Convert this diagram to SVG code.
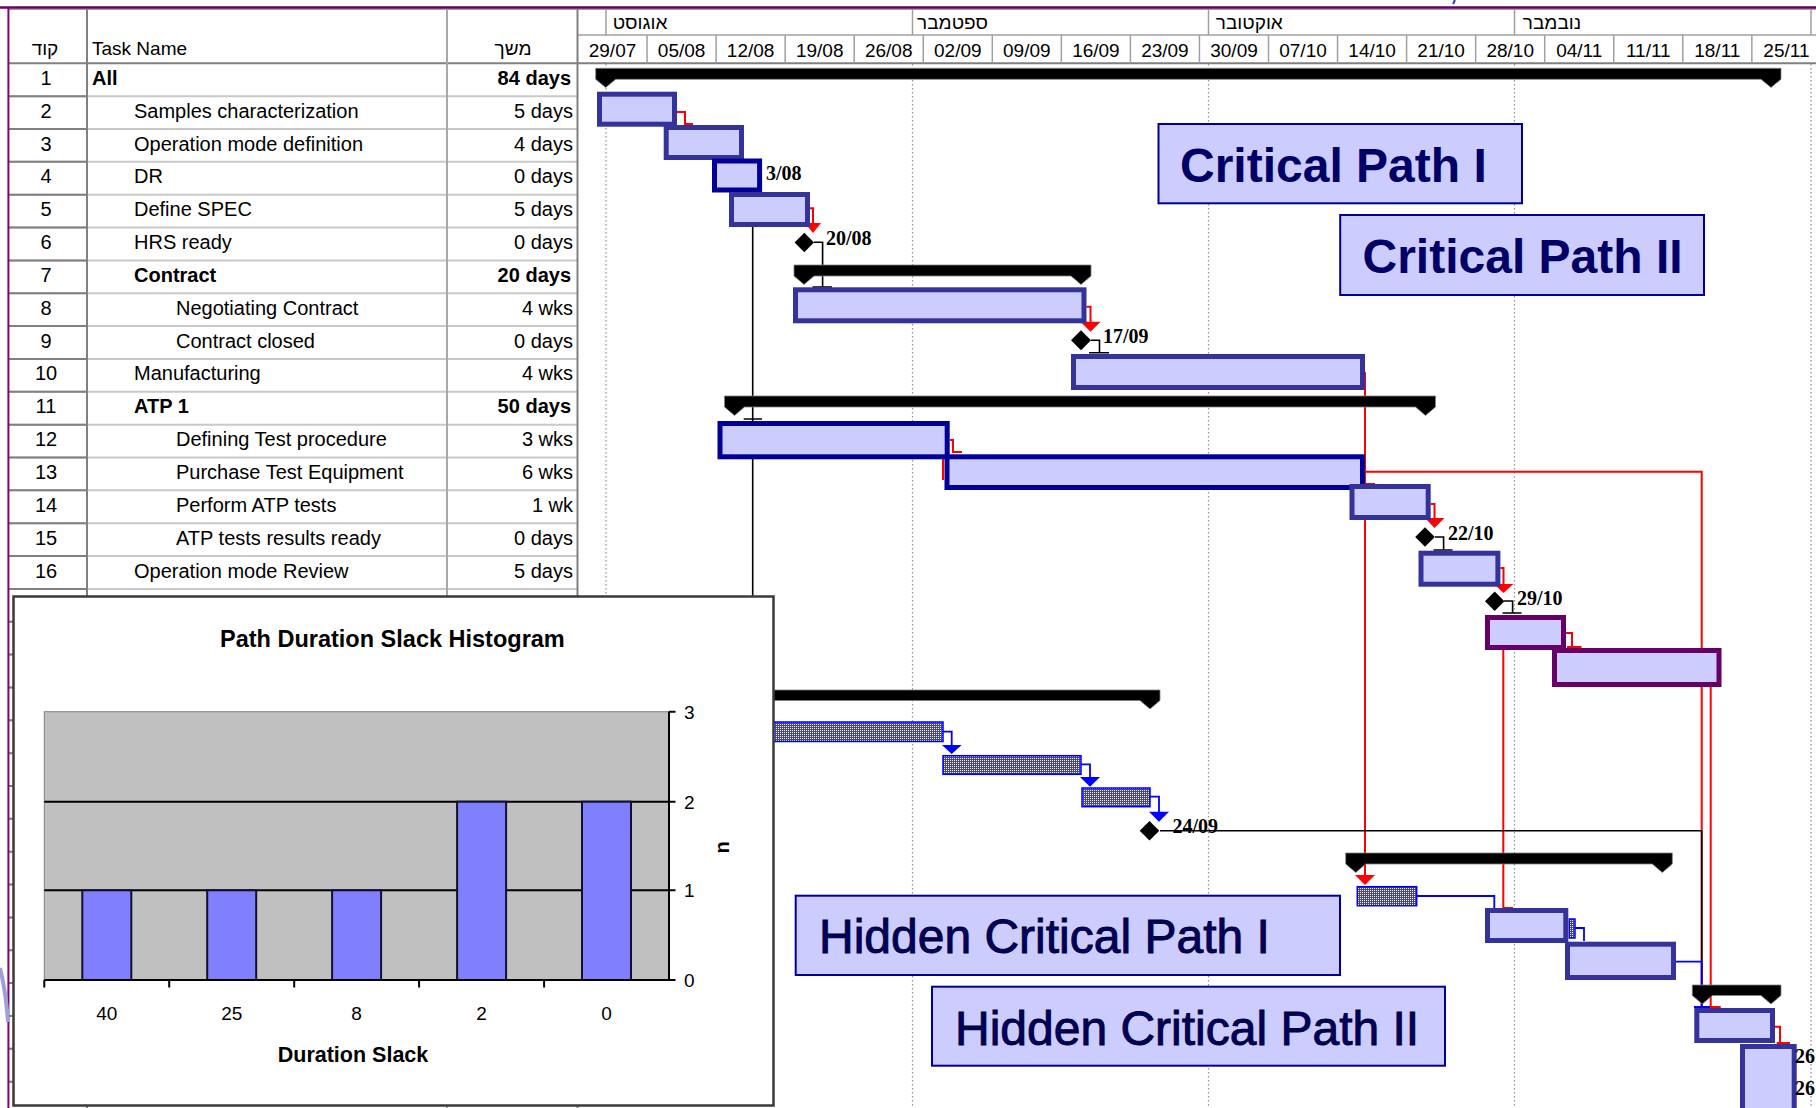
<svg xmlns="http://www.w3.org/2000/svg" width="1816" height="1108" viewBox="0 0 1816 1108">
<style>
.t{font-family:"Liberation Sans","DejaVu Sans",Arial,sans-serif;font-size:20px;fill:#000}
.b{font-weight:bold}
.hd{font-family:"Liberation Sans","DejaVu Sans",Arial,sans-serif;font-size:19px;fill:#000}
.ms{font-family:"Liberation Serif","DejaVu Serif",serif;font-weight:bold;font-size:20px;fill:#000}
.cp{font-family:"Liberation Sans",Arial,sans-serif;font-weight:bold;font-size:48px;fill:#000066}
.hcp{font-family:"Liberation Sans",Arial,sans-serif;font-size:48px;fill:#000066;stroke:#000022;stroke-width:0.9}
.box{fill:#CCCCFF;stroke:#000099;stroke-width:2}
.crit{fill:#CCCCFF;stroke:#333399;stroke-width:5}
.crit2{fill:#CCCCFF;stroke:#000099;stroke-width:5}
.purp{fill:#CCCCFF;stroke:#660066;stroke-width:5}
.hatch{fill:url(#hp);stroke:#0000FF;stroke-width:1.5}
.sum{fill:#000;stroke:#808080;stroke-width:0.8}
.rl{fill:none;stroke:#FF0000;stroke-width:2}
.bl{fill:none;stroke:#000;stroke-width:1.6}
.bu{fill:none;stroke:#0000FF;stroke-width:1.8}
.ra{fill:#FF0000}
.ba{fill:#0000FF}
.dot{stroke:#909090;stroke-width:1.2;stroke-dasharray:1.5 2.5}
.rowl{stroke:#C8C8C8;stroke-width:2}
.rowd{stroke:#808080;stroke-width:2}
.gl{stroke:#A0A0A0;stroke-width:1.5}
.hl{font-family:"Liberation Sans",Arial,sans-serif;font-size:19px;fill:#000}
</style>
<defs>
<pattern id="hp" width="2" height="2" patternUnits="userSpaceOnUse">
<rect width="2" height="2" fill="#3838FF"/>
<rect width="1" height="1" fill="#FFFFFF"/>
</pattern>
</defs>
<rect width="1816" height="1108" fill="#FFFFFF"/>

<!-- table grid -->
<g id="table-grid">
<line x1="9" y1="9.3" x2="1816" y2="9.3" class="gl"/>
<line x1="9" y1="63.3" x2="1816" y2="63.3" class="rowd"/>
<line x1="578" y1="35" x2="1816" y2="35" class="gl"/>
<g class="rowl">
<line x1="9" y1="96.15" x2="577" y2="96.15"/><line x1="9" y1="129" x2="577" y2="129"/>
<line x1="9" y1="161.85" x2="577" y2="161.85"/><line x1="9" y1="194.7" x2="577" y2="194.7"/>
<line x1="9" y1="227.55" x2="577" y2="227.55"/><line x1="9" y1="260.4" x2="577" y2="260.4"/>
<line x1="9" y1="293.25" x2="577" y2="293.25"/><line x1="9" y1="326.1" x2="577" y2="326.1"/>
<line x1="9" y1="358.95" x2="577" y2="358.95"/><line x1="9" y1="391.8" x2="577" y2="391.8"/>
<line x1="9" y1="424.65" x2="577" y2="424.65"/><line x1="9" y1="457.5" x2="577" y2="457.5"/>
<line x1="9" y1="490.35" x2="577" y2="490.35"/><line x1="9" y1="523.2" x2="577" y2="523.2"/>
<line x1="9" y1="556.05" x2="577" y2="556.05"/><line x1="9" y1="588.9" x2="577" y2="588.9"/>
<line x1="9" y1="621.75" x2="577" y2="621.75"/><line x1="9" y1="654.6" x2="577" y2="654.6"/>
<line x1="9" y1="687.45" x2="577" y2="687.45"/><line x1="9" y1="720.3" x2="577" y2="720.3"/>
<line x1="9" y1="753.15" x2="577" y2="753.15"/><line x1="9" y1="786" x2="577" y2="786"/>
<line x1="9" y1="818.85" x2="577" y2="818.85"/><line x1="9" y1="851.7" x2="577" y2="851.7"/>
<line x1="9" y1="884.55" x2="577" y2="884.55"/><line x1="9" y1="917.4" x2="577" y2="917.4"/>
<line x1="9" y1="950.25" x2="577" y2="950.25"/><line x1="9" y1="983.1" x2="577" y2="983.1"/>
<line x1="9" y1="1015.95" x2="577" y2="1015.95"/><line x1="9" y1="1048.8" x2="577" y2="1048.8"/>
<line x1="9" y1="1081.65" x2="577" y2="1081.65"/>
</g>
<g class="rowd">
<line x1="9" y1="96.15" x2="87" y2="96.15"/><line x1="9" y1="129" x2="87" y2="129"/>
<line x1="9" y1="161.85" x2="87" y2="161.85"/><line x1="9" y1="194.7" x2="87" y2="194.7"/>
<line x1="9" y1="227.55" x2="87" y2="227.55"/><line x1="9" y1="260.4" x2="87" y2="260.4"/>
<line x1="9" y1="293.25" x2="87" y2="293.25"/><line x1="9" y1="326.1" x2="87" y2="326.1"/>
<line x1="9" y1="358.95" x2="87" y2="358.95"/><line x1="9" y1="391.8" x2="87" y2="391.8"/>
<line x1="9" y1="424.65" x2="87" y2="424.65"/><line x1="9" y1="457.5" x2="87" y2="457.5"/>
<line x1="9" y1="490.35" x2="87" y2="490.35"/><line x1="9" y1="523.2" x2="87" y2="523.2"/>
<line x1="9" y1="556.05" x2="87" y2="556.05"/><line x1="9" y1="588.9" x2="87" y2="588.9"/>
<line x1="9" y1="621.75" x2="87" y2="621.75"/><line x1="9" y1="654.6" x2="87" y2="654.6"/>
<line x1="9" y1="687.45" x2="87" y2="687.45"/><line x1="9" y1="720.3" x2="87" y2="720.3"/>
<line x1="9" y1="753.15" x2="87" y2="753.15"/><line x1="9" y1="786" x2="87" y2="786"/>
<line x1="9" y1="818.85" x2="87" y2="818.85"/><line x1="9" y1="851.7" x2="87" y2="851.7"/>
<line x1="9" y1="884.55" x2="87" y2="884.55"/><line x1="9" y1="917.4" x2="87" y2="917.4"/>
<line x1="9" y1="950.25" x2="87" y2="950.25"/><line x1="9" y1="983.1" x2="87" y2="983.1"/>
<line x1="9" y1="1015.95" x2="87" y2="1015.95"/><line x1="9" y1="1048.8" x2="87" y2="1048.8"/>
<line x1="9" y1="1081.65" x2="87" y2="1081.65"/>
<line x1="87" y1="9.3" x2="87" y2="1108"/>
<line x1="577.5" y1="9.3" x2="577.5" y2="1108"/>
</g>
<line x1="447" y1="9.3" x2="447" y2="1108" stroke="#A8A8A8" stroke-width="2"/>
</g>

<!-- gantt header -->
<g id="timescale">
<g class="gl">
<line x1="606" y1="9.3" x2="606" y2="35"/><line x1="912.5" y1="9.3" x2="912.5" y2="35"/>
<line x1="1208.5" y1="9.3" x2="1208.5" y2="35"/><line x1="1514.5" y1="9.3" x2="1514.5" y2="35"/>
<line x1="1811" y1="9.3" x2="1811" y2="35"/>
<line x1="647.05" y1="35" x2="647.05" y2="63.3"/><line x1="716.1" y1="35" x2="716.1" y2="63.3"/>
<line x1="785.15" y1="35" x2="785.15" y2="63.3"/><line x1="854.2" y1="35" x2="854.2" y2="63.3"/>
<line x1="923.25" y1="35" x2="923.25" y2="63.3"/><line x1="992.3" y1="35" x2="992.3" y2="63.3"/>
<line x1="1061.35" y1="35" x2="1061.35" y2="63.3"/><line x1="1130.4" y1="35" x2="1130.4" y2="63.3"/>
<line x1="1199.45" y1="35" x2="1199.45" y2="63.3"/><line x1="1268.5" y1="35" x2="1268.5" y2="63.3"/>
<line x1="1337.55" y1="35" x2="1337.55" y2="63.3"/><line x1="1406.6" y1="35" x2="1406.6" y2="63.3"/>
<line x1="1475.65" y1="35" x2="1475.65" y2="63.3"/><line x1="1544.7" y1="35" x2="1544.7" y2="63.3"/>
<line x1="1613.75" y1="35" x2="1613.75" y2="63.3"/><line x1="1682.8" y1="35" x2="1682.8" y2="63.3"/>
<line x1="1751.85" y1="35" x2="1751.85" y2="63.3"/>
</g>
<g class="hl" text-anchor="middle">
<text x="640" y="29">אוגוסט</text><text x="952.5" y="29">ספטמבר</text>
<text x="1249.3" y="29">אוקטובר</text><text x="1552" y="29">נובמבר</text>
<text x="612.5" y="57">29/07</text><text x="681.6" y="57">05/08</text><text x="750.6" y="57">12/08</text>
<text x="819.7" y="57">19/08</text><text x="888.7" y="57">26/08</text><text x="957.8" y="57">02/09</text>
<text x="1026.8" y="57">09/09</text><text x="1095.9" y="57">16/09</text><text x="1164.9" y="57">23/09</text>
<text x="1234" y="57">30/09</text><text x="1303" y="57">07/10</text><text x="1372.1" y="57">14/10</text>
<text x="1441.1" y="57">21/10</text><text x="1510.2" y="57">28/10</text><text x="1579.2" y="57">04/11</text>
<text x="1648.3" y="57">11/11</text><text x="1717.3" y="57">18/11</text><text x="1786.4" y="57">25/11</text>
</g>
<g class="dot">
<line x1="606" y1="64" x2="606" y2="1108"/><line x1="912.5" y1="64" x2="912.5" y2="1108"/>
<line x1="1208.5" y1="64" x2="1208.5" y2="1108"/><line x1="1514.5" y1="64" x2="1514.5" y2="1108"/>
<line x1="1811" y1="64" x2="1811" y2="1108"/>
</g>
</g>

<!-- table text -->
<g id="table-text">
<text class="hd" x="45" y="55" text-anchor="middle">קוד</text>
<text class="hd" x="92" y="55">Task Name</text>
<text class="hd" x="513" y="55" text-anchor="middle">משך</text>
<g class="t" text-anchor="middle">
<text x="46" y="84.8">1</text><text x="46" y="117.6">2</text><text x="46" y="150.5">3</text>
<text x="46" y="183.4">4</text><text x="46" y="216.2">5</text><text x="46" y="249">6</text>
<text x="46" y="281.9">7</text><text x="46" y="314.7">8</text><text x="46" y="347.6">9</text>
<text x="46" y="380.4">10</text><text x="46" y="413.3">11</text><text x="46" y="446.1">12</text>
<text x="46" y="479">13</text><text x="46" y="511.8">14</text><text x="46" y="544.7">15</text>
<text x="46" y="577.5">16</text>
</g>
<g class="t">
<text x="92" y="84.8" class="t b">All</text>
<text x="134" y="117.6">Samples characterization</text>
<text x="134" y="150.5">Operation mode definition</text>
<text x="134" y="183.4">DR</text>
<text x="134" y="216.2">Define SPEC</text>
<text x="134" y="249">HRS ready</text>
<text x="134" y="281.9" class="t b">Contract</text>
<text x="176" y="314.7">Negotiating Contract</text>
<text x="176" y="347.6">Contract closed</text>
<text x="134" y="380.4">Manufacturing</text>
<text x="134" y="413.3" class="t b">ATP 1</text>
<text x="176" y="446.1">Defining Test procedure</text>
<text x="176" y="479">Purchase Test Equipment</text>
<text x="176" y="511.8">Perform ATP tests</text>
<text x="176" y="544.7">ATP tests results ready</text>
<text x="134" y="577.5">Operation mode Review</text>
</g>
<g class="t" text-anchor="end">
<text x="571" y="84.8" class="t b">84 days</text><text x="573" y="117.6">5 days</text>
<text x="573" y="150.5">4 days</text><text x="573" y="183.4">0 days</text>
<text x="573" y="216.2">5 days</text><text x="573" y="249">0 days</text>
<text x="571" y="281.9" class="t b">20 days</text><text x="573" y="314.7">4 wks</text>
<text x="573" y="347.6">0 days</text><text x="573" y="380.4">4 wks</text>
<text x="571" y="413.3" class="t b">50 days</text><text x="573" y="446.1">3 wks</text>
<text x="573" y="479">6 wks</text><text x="573" y="511.8">1 wk</text>
<text x="573" y="544.7">0 days</text><text x="573" y="577.5">5 days</text>
</g>
</g>

<!-- connectors -->
<g id="connectors">
<path class="rl" d="M677,112 H685 V124 H693"/>
<path class="rl" d="M810,208.3 H813 V224"/>
<polygon class="ra" points="805,223 821,223 813,233"/>
<path class="bl" d="M814,242.3 H822.6 V287 M812.5,287 H832"/>
<path class="bl" d="M752.7,227 V600 M743.7,419 H762"/>
<path class="rl" d="M1086.5,306.7 H1090.5 V322"/>
<polygon class="ra" points="1080.5,321.7 1100.5,321.7 1090.5,331.7"/>
<path class="bl" d="M1091,340.3 H1099.5 V352.7 M1089,352.7 H1109"/>
<path class="rl" d="M950,440 H953 V452 H962 M943,458 V480"/>
<path class="rl" d="M1365,372 V876"/>
<polygon class="ra" points="1355,875 1375,875 1365,885"/>
<path class="rl" d="M1365,471.7 H1701.7 V1007 M1365,484 H1375"/>
<path class="rl" d="M1430.7,504 H1434.5 V519"/>
<polygon class="ra" points="1425,518 1444.5,518 1434.5,528"/>
<path class="bl" d="M1435,537 H1443.6 V550 M1433.5,550 H1452.5"/>
<path class="rl" d="M1500.4,568 H1503.5 V585"/>
<polygon class="ra" points="1494,584 1513.4,584 1503.5,593"/>
<path class="bl" d="M1504,601 H1512.6 V613 M1502.5,613 H1521.5"/>
<path class="rl" d="M1566,633 H1572 V647 M1567,647 H1581.5"/>
<path class="rl" d="M1503.3,650 V908 H1513"/>
<path class="rl" d="M1710.7,687 V1007 H1720.7"/>
<path class="bu" d="M943,731.7 H951.7 V746"/>
<polygon class="ba" points="942,745 961.7,745 951.7,754"/>
<path class="bu" d="M1081,764.3 H1090 V778"/>
<polygon class="ba" points="1080,777 1100,777 1090,786.7"/>
<path class="bu" d="M1150,796.7 H1159 V812"/>
<polygon class="ba" points="1149,811.7 1169,811.7 1159,821.7"/>
<path class="bl" d="M1160,830.8 H1701.7 V1007"/>
<path class="bu" d="M1416.7,896 H1494.3 V908"/>
<path class="bu" d="M1575,928 H1584 V941"/>
<path class="bu" d="M1676,961.7 H1701.7 V1007 M1694,1007 H1710"/>
<path class="rl" d="M1775,1026.7 H1780 V1043 M1776.7,1043 H1790"/>
</g>

<!-- gantt tasks -->
<g id="task-1"><polygon class="sum" points="595.7,68.3 1781,68.3 1781,79.3 1771,87.5 1761,79.3 615.7,79.3 605.7,87.5 595.7,79.3"/></g>
<g id="task-2"><rect class="crit" x="599.5" y="94.2" width="75" height="30"/></g>
<g id="task-3"><rect class="crit" x="666.2" y="127.5" width="75.3" height="30"/></g>
<g id="task-4"><rect class="crit2" x="714.5" y="161" width="45.1" height="29" stroke-width="6"/><text class="ms" x="766" y="179.5">3/08</text></g>
<g id="task-5"><rect class="crit" x="731.5" y="194.5" width="76" height="30"/></g>
<g id="task-6"><polygon points="804.3,232.8 814,242.5 804.3,252.2 794.6,242.5" fill="#000"/><text class="ms" x="826" y="245">20/08</text></g>
<g id="task-7"><polygon class="sum" points="794,265 1091,265 1091,276 1081,284.5 1071,276 814,276 804,284.5 794,276"/></g>
<g id="task-8"><rect class="crit" x="795.5" y="289.8" width="288.5" height="31"/></g>
<g id="task-9"><polygon points="1081,330.3 1091,340.3 1081,350.3 1071,340.3" fill="#000"/><text class="ms" x="1103" y="343">17/09</text></g>
<g id="task-10"><rect class="crit" x="1073.5" y="356.5" width="289" height="31"/></g>
<g id="task-11"><polygon class="sum" points="724.5,396 1435.5,396 1435.5,407 1425.5,415.5 1415.5,407 744.5,407 734.5,415.5 724.5,407"/></g>
<g id="task-12"><rect class="crit2" x="720" y="423.5" width="227.2" height="33.3"/></g>
<g id="task-13"><rect class="crit2" x="947" y="456.8" width="415.5" height="30.7"/></g>
<g id="task-14"><rect class="crit" x="1352" y="486.5" width="76.2" height="31"/></g>
<g id="task-15"><polygon points="1425,527.3 1434.8,537 1425,546.7 1415.2,537" fill="#000"/><text class="ms" x="1448" y="540">22/10</text></g>
<g id="task-16"><rect class="crit" x="1421" y="553.2" width="76.9" height="31"/></g>
<g id="task-17"><polygon points="1494.7,591.5 1504.4,601.2 1494.7,610.9 1485,601.2" fill="#000"/><text class="ms" x="1517" y="605">29/10</text></g>
<g id="task-18"><rect class="purp" x="1487.5" y="617.5" width="76" height="30"/></g>
<g id="task-19"><rect class="purp" x="1554.5" y="650.5" width="164.5" height="34"/></g>
<g id="task-20"><polygon class="sum" points="740,690 1160,690 1160,700.5 1150,709 1140,700.5 740,700.5"/></g>
<g id="task-21"><rect class="hatch" x="740" y="722" width="203" height="19.5"/></g>
<g id="task-22"><rect class="hatch" x="943" y="755.7" width="138" height="18.6"/></g>
<g id="task-23"><rect class="hatch" x="1082" y="788" width="68" height="18.7"/></g>
<g id="task-24"><polygon points="1149.5,821 1159.3,830.8 1149.5,840.6 1139.7,830.8" fill="#000"/><text class="ms" x="1172.5" y="833">24/09</text></g>
<g id="task-25"><polygon class="sum" points="1345.7,853 1672.3,853 1672.3,864 1662.3,872.5 1652.3,864 1365.7,864 1355.7,872.5 1345.7,864"/></g>
<g id="task-26"><rect class="hatch" x="1357.3" y="886.7" width="59.4" height="19"/></g>
<g id="task-27"><rect class="crit" x="1487.5" y="910.5" width="78.3" height="30"/></g>
<g id="task-28"><rect class="hatch" x="1569.3" y="919" width="5.7" height="19"/></g>
<g id="task-29"><rect class="crit" x="1567.5" y="944.2" width="106" height="33.3"/></g>
<g id="task-30"><polygon class="sum" points="1692.3,985 1781,985 1781,995.5 1771,1004 1761,995.5 1712.3,995.5 1702.3,1004 1692.3,995.5"/></g>
<g id="task-31"><rect class="crit" x="1696.8" y="1010.5" width="75.7" height="30"/></g>
<g id="task-32"><rect class="crit" x="1742.5" y="1046.5" width="51.7" height="80"/><text class="ms" x="1795" y="1063">26</text><text class="ms" x="1795" y="1095">26</text></g>

<!-- callouts -->
<g id="label-cp1"><rect class="box" x="1158.5" y="124" width="363.5" height="79.3"/><text class="cp" x="1180" y="182">Critical Path I</text></g>
<g id="label-cp2"><rect class="box" x="1340.2" y="215" width="363.8" height="80"/><text class="cp" x="1362.5" y="273.3">Critical Path II</text></g>
<g id="label-hcp1"><rect class="box" x="795.7" y="895.7" width="544.3" height="79.3"/><text class="hcp" x="819" y="953.3">Hidden Critical Path I</text></g>
<g id="label-hcp2"><rect class="box" x="932" y="986.7" width="513" height="79"/><text class="hcp" x="955" y="1045">Hidden Critical Path II</text></g>

<!-- histogram -->
<g id="histogram">
<rect x="13.5" y="596.5" width="760" height="509" fill="#FFFFFF" stroke="#3A3A3A" stroke-width="2.5"/>
<text x="392.4" y="646.5" text-anchor="middle" class="t b" style="font-size:23.5px">Path Duration Slack Histogram</text>
<rect x="44.3" y="711.7" width="624.7" height="268.3" fill="#C0C0C0" stroke="#808080" stroke-width="1"/>
<g stroke="#000" stroke-width="2">
<line x1="44.3" y1="801.7" x2="669" y2="801.7"/>
<line x1="44.3" y1="890.3" x2="669" y2="890.3"/>
</g>
<g fill="#8080FF" stroke="#101030" stroke-width="2">
<rect x="82.3" y="890.3" width="49" height="89.7"/>
<rect x="207.2" y="890.3" width="49" height="89.7"/>
<rect x="332.1" y="890.3" width="49" height="89.7"/>
<rect x="457.1" y="801.7" width="49" height="178.3"/>
<rect x="582" y="801.7" width="49" height="178.3"/>
</g>
<g stroke="#000" stroke-width="2" fill="none">
<path d="M44.3,980 H669 M669,711.7 V980"/>
<path d="M669,711.7 H675.5 M669,801.7 H675.5 M669,890.3 H675.5 M669,980 H675.5"/>
<path d="M44.3,980 V987.5 M169.2,980 V987.5 M294.2,980 V987.5 M419.1,980 V987.5 M544.1,980 V987.5"/>
</g>
<g class="t" style="font-size:19px">
<text x="684" y="718.5">3</text><text x="684" y="808.5">2</text>
<text x="684" y="897">1</text><text x="684" y="987">0</text>
</g>
<g class="t" style="font-size:19px" text-anchor="middle">
<text x="106.8" y="1019.5">40</text><text x="231.7" y="1019.5">25</text>
<text x="356.6" y="1019.5">8</text><text x="481.6" y="1019.5">2</text>
<text x="606.5" y="1019.5">0</text>
</g>
<text x="353" y="1061.5" text-anchor="middle" class="t b" style="font-size:21.5px">Duration Slack</text>
<text transform="translate(728.5,847.5) rotate(-90)" text-anchor="middle" class="t b" style="font-size:20px">n</text>
</g>

<!-- frame -->
<g id="frame">
<line x1="0" y1="7.5" x2="1816" y2="7.5" stroke="#660066" stroke-width="2.5"/>
<line x1="8.4" y1="7" x2="8.4" y2="1108" stroke="#800080" stroke-width="2"/>
<path d="M0,968 Q6,992 8,1022" fill="none" stroke="#A0A0D8" stroke-width="4"/>
<path d="M1455,0 L1453,4" stroke="#3333CC" stroke-width="2"/>
</g>
</svg>
